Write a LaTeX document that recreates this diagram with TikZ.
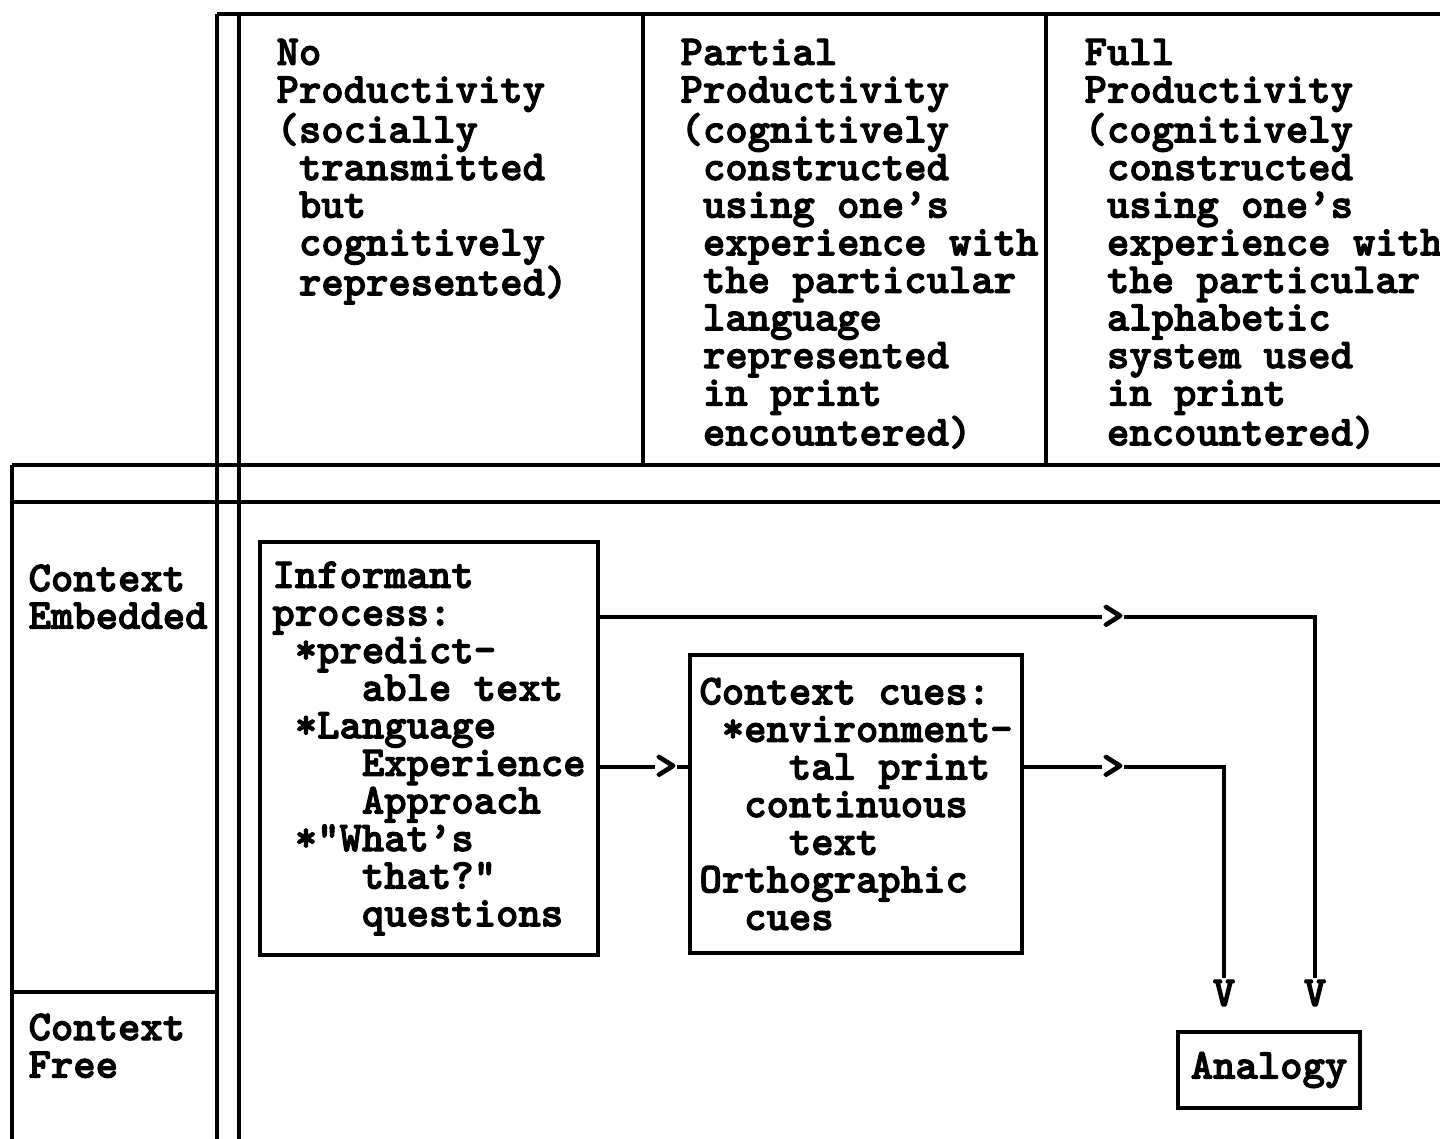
\documentclass[tikz,border=0pt]{standalone}
\usepackage{fontspec}
\newfontfamily\twfam{lmmonolt10-bold}[Extension=.otf,FakeBold=2.5]
\newcommand\twfont{\fontsize{42.6}{37.6}\selectfont\twfam}
\begin{document}
\begin{tikzpicture}[x=1pt,y=-1pt,line width=3.2pt,
txt/.style={anchor=north west,inner sep=0,align=left,font=\twfont},
box/.style={draw,align=left,inner sep=0,font=\twfont},
rhead/.style={fill=white,inner sep=0,font=\twfont},
vhead/.style={inner sep=0,font=\twfont}]
\useasboundingbox(0,0)rectangle(1440,1139);
% grid
\draw(217,14)--(1440,14) (217,14)--(217,1139) (239,14)--(239,1139);
\draw(643,14)--(643,465) (1046,14)--(1046,465);
\draw(12,465)--(1440,465) (12,502)--(1440,502) (12,465)--(12,1139);
\draw(12,992)--(217,992);
% headings
\node[txt](hno) at (275,37){\strut No\\Productivity\\(socially\\~transmitted\\~but\\~cognitively\\~represented)};
\node[txt](hpart) at (679,37){\strut Partial\\Productivity\\(cognitively\\~constructed\\~using one’s\\~experience with\\~the particular\\~language\\~represented\\~in print\\~encountered)};
\node[txt](hfull) at (1083,37){\strut Full\\Productivity\\(cognitively\\~constructed\\~using one’s\\~experience with\\~the particular\\~alphabetic\\~system used\\~in print\\~encountered)};
\node[txt](embed) at (27,563){\strut Context\\Embedded};
\node[txt](free) at (27,1012){\strut Context\\Free};
% boxes
\node[box,minimum width=338,minimum height=413](informant) at (429,748.5){\strut Informant\\process:\\~*predict-\\~~~~able text\\~*Language\\~~~~Experience\\~~~~Approach\\~*"What’s\\~~~~that?"\\~~~~questions};
\node[box,minimum width=332,minimum height=298](cues) at (856,804){\strut Context cues:\\~*environment-\\~~~~tal print\\~~continuous\\~~~~text\\Orthographic\\~~cues};
\node[box,minimum width=182,minimum height=76](analogy) at (1269,1070){Analogy};
\node[vhead](vl) at (1224,993){V};
\node[vhead](vr) at (1315,993){V};
\coordinate(ytop) at (0,617);
\coordinate(ymid) at (0,767);
% connectors
\draw(informant.east|-ytop)--(vr|-ytop)--(vr.north);
\draw(informant.east|-ymid)--(cues.west|-ymid);
\draw(cues.east|-ymid)--(vl|-ymid)--(vl.north);
\node[rhead](ga) at (1113,617){>};
\node[rhead](gb) at (666,767){>};
\node[rhead](gc) at (1113,767){>};
\end{tikzpicture}
\end{document}
